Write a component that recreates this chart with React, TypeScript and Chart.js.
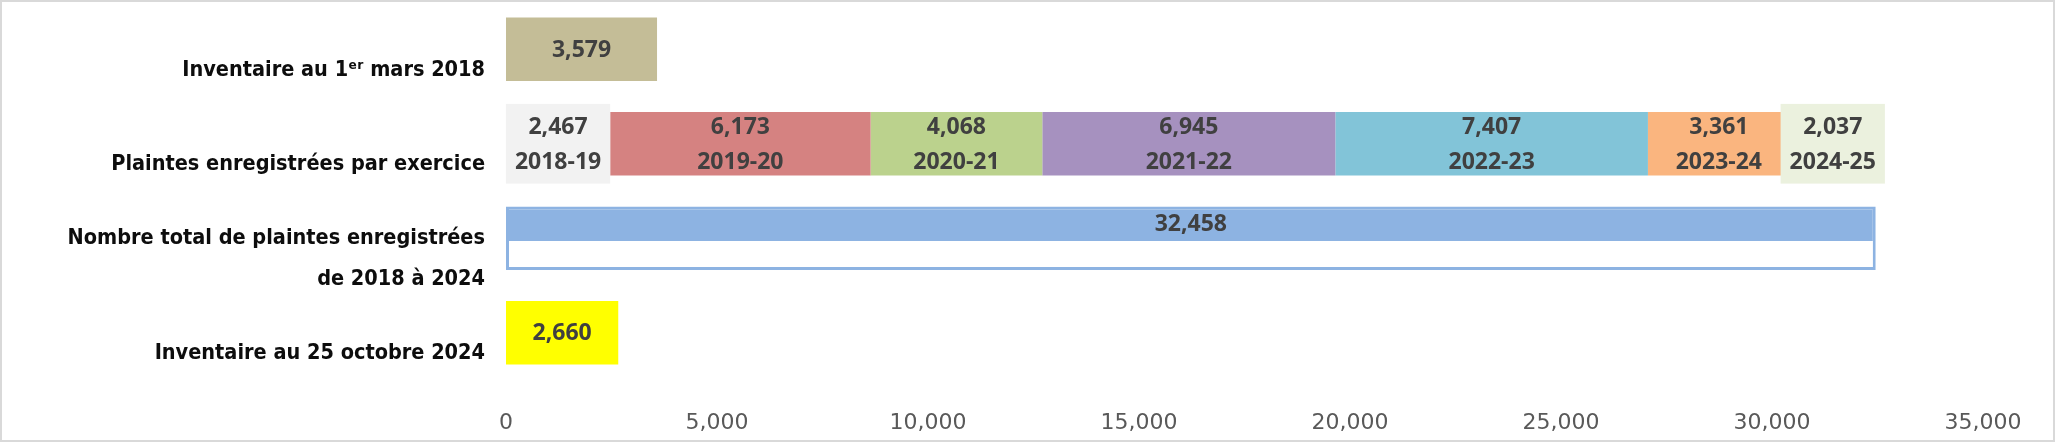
import React, { useEffect, useRef } from "react";
import { Chart, registerables } from "chart.js";

Chart.register(...registerables);

// ---------- data ----------
const categories: (string | string[])[] = [
  "Inventaire au 1ᵉʳ mars 2018",
  "Plaintes enregistrées par exercice",
  ["Nombre total de plaintes enregistrées", "de 2018 à 2024"],
  "Inventaire au 25 octobre 2024",
];

const singleValues: (number | null)[] = [3579, null, 32458, 2660];
const singleColors = ["#c4bd97", "#ffffff", "#8db3e2", "#ffff00"];

const exercices = ["2018-19", "2019-20", "2020-21", "2021-22", "2022-23", "2023-24", "2024-25"];
const plaintesParExercice = [2467, 6173, 4068, 6945, 7407, 3361, 2037];
const exerciceColors = ["#f2f2f2", "#d58281", "#bbd28d", "#a691bf", "#82c4d8", "#fab57f", "#ebf1de"];
const exerciceLabelBoxes: (string | null)[] = ["#f2f2f2", null, null, null, null, null, "#ebf1de"];

const xMin = 0;
const xMax = 35000;
const xStep = 5000;

// ---------- styling ----------
const BAR_PCT = 0.674;
const LABEL_FONT = "bold 23px 'Open Sans'";
const LABEL_COLOR = "#404040";
const SPLIT_INDEX = 2; // total bar drawn half filled

const fmt = (v: number) => v.toLocaleString("en-US");

const valueLabelPlugin = {
  id: "valueLabels",
  afterDatasetsDraw(chart: any) {
    const ctx: CanvasRenderingContext2D = chart.ctx;
    ctx.save();
    ctx.font = LABEL_FONT;
    ctx.textAlign = "center";
    ctx.textBaseline = "middle";
    chart.data.datasets.forEach((ds: any, di: number) => {
      const meta = chart.getDatasetMeta(di);
      meta.data.forEach((el: any, i: number) => {
        const v = ds.data[i];
        if (v == null) return;
        const { x, y, base, height } = el.getProps(["x", "y", "base", "height"], true);
        const cx = (x + base) / 2;
        const lines: string[] = [fmt(v)];
        if (ds.period) lines.push(ds.period);
        const gap = 35;
        let cy = y + 1;
        if (di === 0 && i === SPLIT_INDEX) cy = y - height / 2 + height * 0.28;
        if (ds.labelBox) {
          const w = Math.max(...lines.map((l) => ctx.measureText(l).width)) + 18;
          const h = height + 16;
          ctx.fillStyle = ds.labelBox;
          ctx.fillRect(cx - w / 2, y - h / 2, w, h);
        }
        ctx.fillStyle = LABEL_COLOR;
        lines.forEach((l, k) => {
          const ly = cy + (k - (lines.length - 1) / 2) * gap;
          ctx.fillText(l, cx, ly);
        });
      });
    });
    ctx.restore();
  },
};

export default function App() {
  const ref = useRef<HTMLCanvasElement>(null);

  useEffect(() => {
    if (!ref.current) return;

    const singleBg = (c: any) => {
      const i = c.dataIndex;
      if (i === SPLIT_INDEX) {
        const ys = c.chart.scales?.y;
        if (!ys || !c.chart.chartArea) return singleColors[i];
        const center = ys.getPixelForValue(i);
        const pitch = Math.abs(ys.getPixelForValue(1) - ys.getPixelForValue(0));
        const th = pitch * BAR_PCT;
        const top = center - th / 2;
        const g = c.chart.ctx.createLinearGradient(0, top, 0, top + th);
        g.addColorStop(0, singleColors[i]);
        g.addColorStop(0.55, singleColors[i]);
        g.addColorStop(0.55, "#ffffff");
        g.addColorStop(1, "#ffffff");
        return g;
      }
      return singleColors[i];
    };

    const datasets: any[] = [
      {
        label: "Inventaire / Total",
        data: singleValues,
        backgroundColor: singleBg,
        borderColor: "#8db3e2",
        borderWidth: (c: any) => (c.dataIndex === SPLIT_INDEX ? 3 : 0),
        borderSkipped: false,
        barPercentage: BAR_PCT,
        categoryPercentage: 1,
      },
      ...exercices.map((p, k) => ({
        label: p,
        period: p,
        labelBox: exerciceLabelBoxes[k],
        data: [null, plaintesParExercice[k], null, null],
        backgroundColor: exerciceColors[k],
        borderWidth: 0,
        barPercentage: BAR_PCT,
        categoryPercentage: 1,
      })),
    ];

    const chart = new Chart(ref.current, {
      type: "bar",
      data: { labels: categories as any, datasets },
      options: {
        indexAxis: "y",
        responsive: false,
        animation: false,
        layout: { padding: { left: 0, right: 70, top: 0, bottom: 0 } },
        plugins: { legend: { display: false }, tooltip: { enabled: false } },
        scales: {
          x: {
            stacked: true,
            min: xMin,
            max: xMax,
            ticks: {
              stepSize: xStep,
              padding: 30,
              color: "#595959",
              font: { family: "'DejaVu Sans'", size: 22 },
              callback: (v: any) => fmt(Number(v)),
            },
            grid: { display: false, drawTicks: false },
            border: { display: false },
            afterFit: (s: any) => {
              s.height = 60;
              s.paddingLeft = 0;
              s.paddingRight = 0;
            },
          },
          y: {
            stacked: true,
            ticks: {
              padding: 21,
              labelOffset: 21,
              color: "#0d0d0d",
              font: {
                family: "'DejaVu Sans Condensed', sans-serif",
                size: 21.5,
                weight: "bold",
                lineHeight: 1.9,
              },
            },
            grid: { display: false, drawTicks: false },
            border: { display: false },
            afterFit: (s: any) => {
              s.width = 504;
              s.paddingTop = 0;
              s.paddingBottom = 0;
            },
          },
        },
      },
      plugins: [valueLabelPlugin],
    });

    return () => chart.destroy();
  }, []);

  return (
    <div
      style={{
        position: "fixed",
        left: 0,
        top: 0,
        width: 2055,
        height: 442,
        boxSizing: "border-box",
        border: "2px solid #d9d9d9",
        background: "#ffffff",
      }}
    >
      <canvas ref={ref} width={2051} height={438} style={{ display: "block", width: 2051, height: 438 }} />
    </div>
  );
}
